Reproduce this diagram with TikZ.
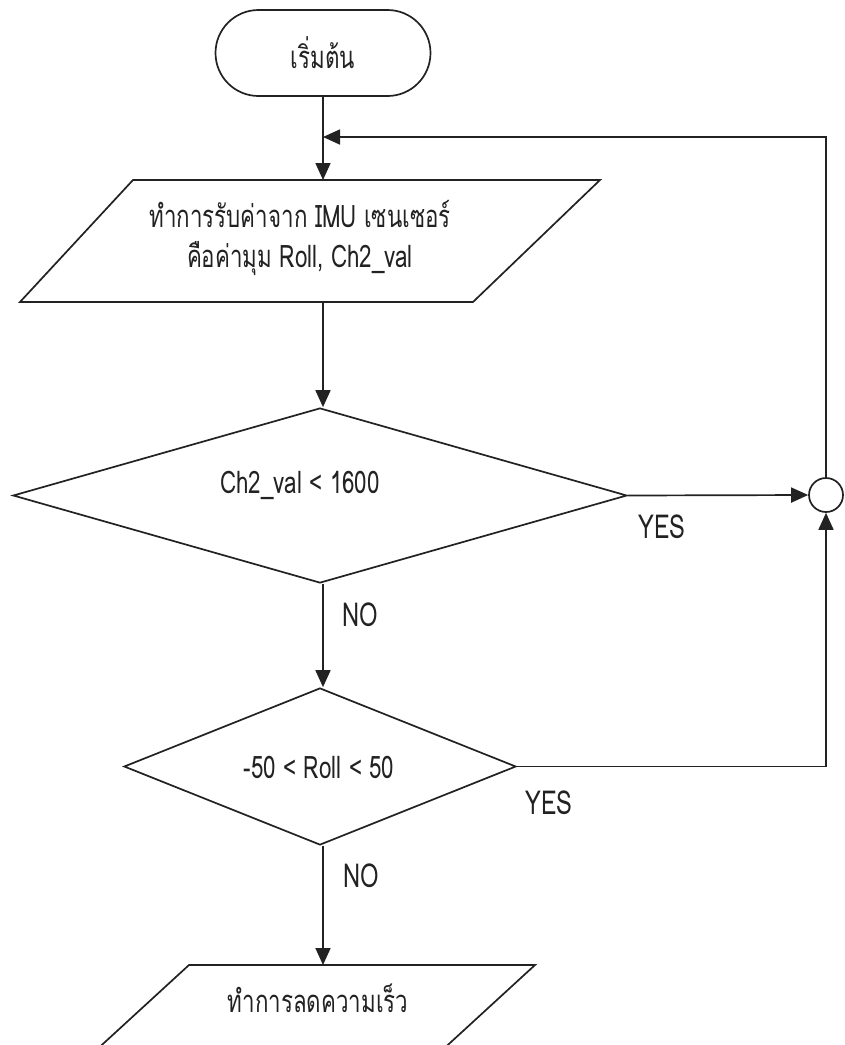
\documentclass[tikz,border=0pt]{standalone}
\usepackage{fontspec}
\newfontfamily\thaifont[Script=Thai, FakeStretch=0.72]{Loma}
\usetikzlibrary{shapes.geometric,shapes.misc,arrows.meta}
\definecolor{ink}{HTML}{222222}
\tikzset{
  every node/.style={font=\thaifont\fontsize{31}{36}\selectfont, text=ink},
  outline/.style={draw=ink, line width=1.7pt, fill=white},
  term/.style={outline, rounded rectangle, minimum width=215pt, minimum height=86pt, inner sep=0pt},
  decision/.style={outline, diamond, inner sep=0pt},
  joint/.style={outline, circle, minimum size=34pt, inner sep=0pt},
  lbl/.style={font=\thaifont\fontsize{33}{38}\selectfont},
  flow/.style={draw=ink, line width=1.7pt, -{Triangle[length=17pt,width=15pt]}},
}
\begin{document}
\begin{tikzpicture}[x=1pt,y=-1pt]
\useasboundingbox (0,0) rectangle (845,1045);
\clip (0,0) rectangle (845,1045);
\fill[white] (0,0) rectangle (845,1045);

% start
\node[term] (start) at (323,53) {เริ่มต้น};

% input parallelogram
\draw[outline] (133,180) -- (600,180) -- (473,302) -- (20,302) -- cycle;
\coordinate (intop) at (323,180);
\coordinate (inbot) at (323,302);
\node[align=center] (intext) at (300,238) {ทำการรับค่าจาก IMU เซนเซอร์\\[4pt]คือค่ามุม Roll, Ch2\_val};

% decision 1
\node[decision, minimum width=614pt, minimum height=175pt] (d1) at (320,495.5) {};
\node (d1text) at (300,485) {Ch2\_val < 1600};

% decision 2
\node[decision, minimum width=392pt, minimum height=157pt] (d2) at (320,766.5) {};
\node (d2text) at (319,767) {-50 < Roll < 50};

% junction circle
\node[joint] (jn) at (826,495) {};

% output parallelogram
\draw[outline] (189,965) -- (535,965) -- (402,1087) -- (56,1087) -- cycle;
\coordinate (outtop) at (323,965);
\node (outtext) at (318,998) {ทำการลดความเร็ว};

% connectors
\coordinate (fb) at (323,137);
\draw[flow] (start.south) -- (intop);
\draw[flow] (jn.north) |- (fb);
\draw[flow] (inbot) -- (d1.north -| inbot);
\draw[flow] (d1.east) -- (jn.west);
\draw[flow] (d1.south -| inbot) -- (d2.north -| inbot);
\draw[flow] (d2.east) -| (jn.south);
\draw[flow] (d2.south -| inbot) -- (outtop);

% labels
\node[lbl] (yes1) at (662,527) {YES};
\node[lbl] (no1) at (360,615) {NO};
\node[lbl] (yes2) at (549,803) {YES};
\node[lbl] (no2) at (361,876) {NO};
\end{tikzpicture}
\end{document}
